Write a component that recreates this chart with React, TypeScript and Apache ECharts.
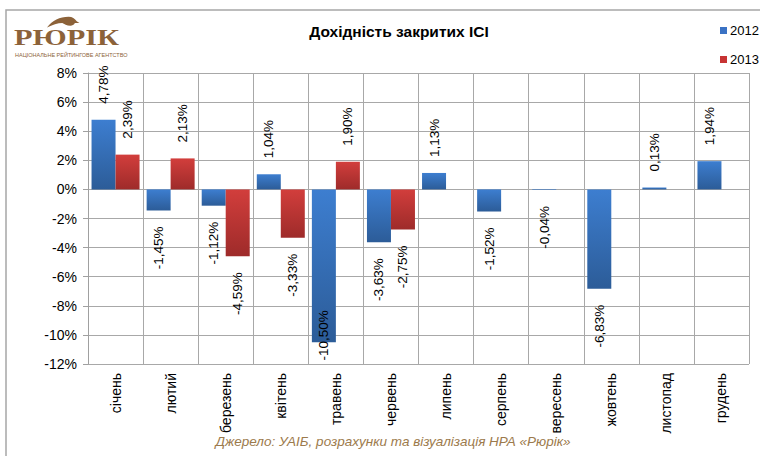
import React, { useEffect, useRef } from "react";
import * as echarts from "echarts";

const categories = ["січень", "лютий", "березень", "квітень", "травень", "червень", "липень", "серпень", "вересень", "жовтень", "листопад", "грудень"];
const values2012 = [4.78, -1.45, -1.12, 1.04, -10.5, -3.63, 1.13, -1.52, -0.04, -6.83, 0.13, 1.94];
const values2013 = [2.39, 2.13, -4.59, -3.33, 1.9, -2.75, null, null, null, null, null, null];
const seriesNames = ["2012", "2013"];
const yTicks = { min: -12, max: 8, interval: 2 };

const BROWN = "#8c6239";

const birdPath =
  "M0 14 C6 6 14 2 24 2 C28 2 31 4 33 7 L36 9 L31 9 C30 11 28 12 26 12 C22 12 19 10 17 9 C12 9 6 11 0 14 Z M24 4 C26 4 28 5 28 6 C27 6 25 6 24 4 Z";

function toData(vals: (number | null)[]) {
  return vals.map((v) => {
    if (v === null) return null;
    const pos = v >= 0;
    let distance = 16;
    if (v === -10.5) distance = -32;
    return {
      value: v,
      label: {
        position: pos ? "top" : "bottom",
        align: pos ? "left" : "right",
        distance,
      },
    };
  });
}

function grad(top: string, bottom: string) {
  return new echarts.graphic.LinearGradient(0, 0, 0, 1, [
    { offset: 0, color: top },
    { offset: 1, color: bottom },
  ]);
}

export default function App() {
  const ref = useRef<HTMLDivElement>(null);
  useEffect(() => {
    if (!ref.current) return;
    try {
      echarts.graphic.registerShape("bird", echarts.graphic.extendPath(birdPath, {}) as any);
    } catch (e) {}
    const chart = echarts.init(ref.current, undefined, { renderer: "svg" });
    const labelCommon = {
      show: true,
      rotate: 90,
      verticalAlign: "middle",
      fontSize: 13.5,
      color: "#000",
      fontFamily: "Liberation Sans, Arial, sans-serif",
      formatter: (p: any) => Number(p.value).toFixed(2).replace(".", ",") + "%",
    };
    chart.setOption({
      animation: false,
      textStyle: { fontFamily: "Liberation Sans, Arial, sans-serif" },
      title: {
        text: "Дохідність закритих ІСІ",
        left: 394,
        textAlign: "center",
        top: 18,
        textStyle: { fontSize: 15.5, fontWeight: "bold", color: "#000" },
      },
      legend: {
        orient: "vertical",
        left: 715,
        top: 19,
        itemWidth: 7,
        itemHeight: 7,
        itemGap: 16,
        icon: "rect",
        textStyle: { fontSize: 13, color: "#000", padding: [0, 0, 0, -2] },
        data: [
          { name: seriesNames[0], itemStyle: { color: "#3a72c4" } },
          { name: seriesNames[1], itemStyle: { color: "#c73434" } },
        ],
      },
      grid: { left: 88, right: 11, top: 73, bottom: 92 },
      xAxis: {
        type: "category",
        data: categories,
        axisLine: { onZero: false, show: false },
        axisTick: { show: false },
        splitLine: { show: true, interval: 0, lineStyle: { color: "#a8a8a8", width: 1 } },
        axisLabel: { rotate: 90, fontSize: 14, color: "#000", margin: 9, interval: 0 },
      },
      yAxis: {
        type: "value",
        min: yTicks.min,
        max: yTicks.max,
        interval: yTicks.interval,
        axisLine: { show: true, lineStyle: { color: "#a0a0a0" } },
        axisTick: { show: true, length: 5, lineStyle: { color: "#a0a0a0" } },
        splitLine: { show: true, lineStyle: { color: "#a8a8a8", width: 1.2 } },
        axisLabel: { fontSize: 14, color: "#000", margin: 11, formatter: (v: number) => v + "%" },
      },
      series: [
        {
          name: seriesNames[0],
          type: "bar",
          data: toData(values2012),
          barWidth: 24,
          barGap: "0%",
          itemStyle: { color: grad("#3d7ed0", "#2c5c98") },
          label: labelCommon,
        },
        {
          name: seriesNames[1],
          type: "bar",
          data: toData(values2013),
          barWidth: 24,
          barGap: "0%",
          itemStyle: { color: grad("#d23e3c", "#9e2b2a") },
          label: labelCommon,
        },
      ],
      graphic: [
        {
          type: "polyline",
          shape: { points: [[6, 470], [6, 10], [770, 10]] },
          style: { stroke: "#a6a6a6", lineWidth: 1.5, fill: null },
          silent: true,
        },
        {
          type: "bird",
          x: 47,
          y: 15,
          scaleX: 0.9,
          scaleY: 0.9,
          style: { fill: BROWN },
        },
        {
          type: "text",
          x: 14,
          y: 26,
          scaleX: 1.32,
          style: {
            text: "РЮРІК",
            font: "bold 23px 'Liberation Serif', serif",
            fill: BROWN,
          },
        },
        {
          type: "text",
          x: 15,
          y: 53,
          scaleX: 1.1,
          style: {
            text: "НАЦІОНАЛЬНЕ РЕЙТИНГОВЕ АГЕНТСТВО",
            font: "5px 'Liberation Sans', sans-serif",
            fill: BROWN,
          },
        },
        {
          type: "text",
          x: 393,
          y: 434,
          style: {
            text: "Джерело: УАІБ, розрахунки та візуалізація НРА «Рюрік»",
            font: "italic 13.5px 'Liberation Sans', Arial, sans-serif",
            fill: "#9c7a4c",
            align: "center",
          },
        },
      ],
    });
    return () => chart.dispose();
  }, []);
  return (
    <div
      ref={ref}
      style={{ position: "absolute", left: 0, top: 0, width: 760, height: 456, background: "#fff" }}
    />
  );
}
